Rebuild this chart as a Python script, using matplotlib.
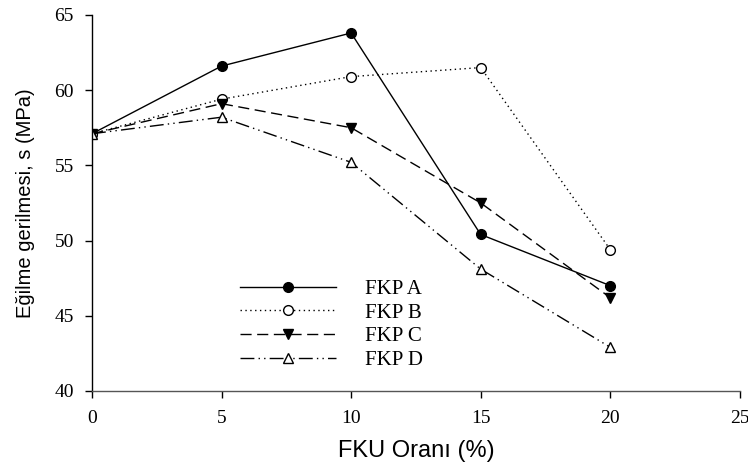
import matplotlib.pyplot as plt

# data
fku = [0, 5, 10, 15, 20]
fkp_a = [57.1, 61.6, 63.8, 50.4, 47.0]
fkp_b = [57.1, 59.4, 60.9, 61.5, 49.4]
fkp_c = [57.1, 59.1, 57.5, 52.5, 46.2]
fkp_d = [57.1, 58.2, 55.2, 48.1, 42.9]
labels = ["FKP A", "FKP B", "FKP C", "FKP D"]

serif = "Liberation Serif"
sans = "Liberation Sans"

fig = plt.figure(figsize=(7.48, 4.67), dpi=100)
ax = fig.add_axes([0.123, 0.163, 0.866, 0.805])

ms = 7
ax.plot(fku, fkp_a, color="black", lw=1, ls="-", marker="o", ms=ms,
        mfc="black", mec="black", label=labels[0])
ax.plot(fku, fkp_b, color="black", lw=1, ls=(0, (1, 2.5)), marker="o", ms=ms,
        mfc="white", mec="black", label=labels[1])
ax.plot(fku, fkp_c, color="black", lw=1, ls=(0, (8, 4)), marker="v", ms=ms,
        mfc="black", mec="black", label=labels[2])
ax.plot(fku, fkp_d, color="black", lw=1, ls=(0, (10, 3, 1, 3, 1, 3)), marker="^", ms=ms,
        mfc="white", mec="black", label=labels[3])

ax.set_xlim(0, 25)
ax.set_ylim(40, 65)
ax.set_xticks(range(0, 26, 5))
ax.set_yticks(range(40, 66, 5))

for s in ["top", "right"]:
    ax.spines[s].set_visible(False)
ax.spines["left"].set_color("black")
ax.spines["bottom"].set_color("#555555")
ax.spines["left"].set_linewidth(1)
ax.spines["bottom"].set_linewidth(1)

ax.tick_params(direction="out", length=5, width=1, color="black")
ax.tick_params(axis="x", pad=9)
ax.tick_params(axis="y", pad=8)
for lbl in ax.get_xticklabels() + ax.get_yticklabels():
    lbl.set_fontfamily(serif)
    lbl.set_fontsize(14)

ax.set_xlabel("FKU Oranı (%)", fontfamily=sans, fontsize=17, labelpad=9)
ax.set_ylabel("Eğilme gerilmesi, s (MPa)", fontfamily=sans, fontsize=14.5, labelpad=14)

leg = ax.legend(loc="upper left", bbox_to_anchor=(0.228, 0.297), frameon=False,
                prop={"family": serif, "size": 15}, handlelength=4.6,
                handletextpad=1.4, labelspacing=0.2, borderpad=0,
                borderaxespad=0)

fig.savefig("out.png", dpi=100)
